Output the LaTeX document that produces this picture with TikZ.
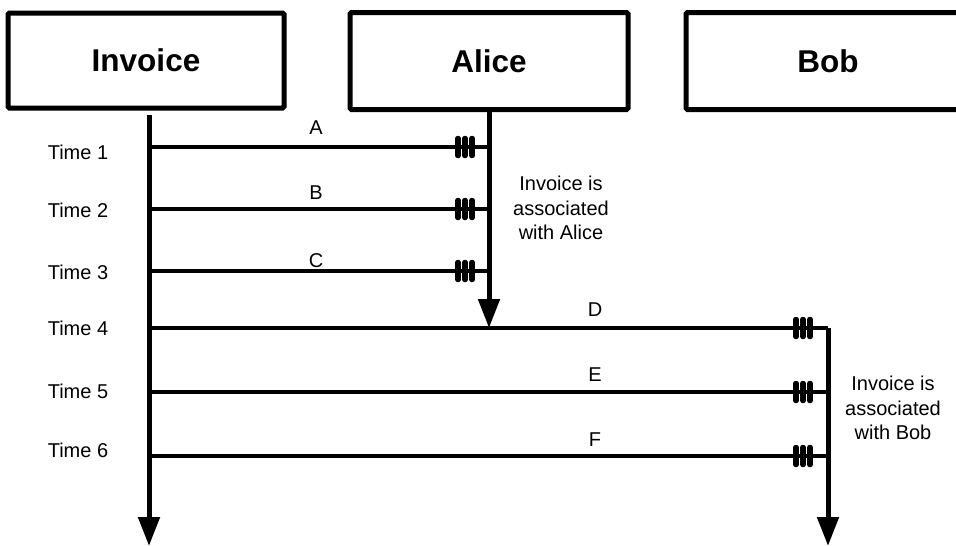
\documentclass[tikz,border=0pt]{standalone}
\usepackage{fontspec}
\setmainfont{Liberation Sans}
\usetikzlibrary{arrows.meta}
\begin{document}
\begin{tikzpicture}[x=1pt,y=-1pt,
  entity/.style={draw,line width=5pt,rounded corners=1.5pt,inner sep=0pt,
    font=\fontsize{31.5}{36}\selectfont\bfseries},
  lifeline/.style={line width=5pt,-{Triangle[width=21pt,length=29pt]}},
  link/.style={line width=4.5pt},
  tick/.style={line width=5.5pt,line cap=round},
  timelbl/.style={font=\fontsize{20}{24}\selectfont},
  msglbl/.style={font=\fontsize{20}{24}\selectfont},
  note/.style={font=\fontsize{20}{24.5}\selectfont,align=center}]
\useasboundingbox (0,0) rectangle (956,546);
\clip (0,0) rectangle (956,546);

% participants
\node[entity,minimum width=276pt,minimum height=95pt] (inv) at (146,60.5) {Invoice};
\node[entity,minimum width=278pt,minimum height=97pt] (ali) at (489,61) {Alice};
\node[entity,minimum width=284pt,minimum height=97pt] (bob) at (828,61) {Bob};

% points on the lifelines
\coordinate (itop) at (149,115);
\coordinate (iend) at (149,546);
\coordinate (a4) at (489,328);
\coordinate (b4) at (828,328);
\coordinate (bend) at (828,546);
\foreach \n/\y in {1/147,2/209,3/271,4/328,5/392,6/456}
  \coordinate (i\n) at (149,\y);
\foreach \n/\y in {1/147,2/209,3/271}
  \coordinate (a\n) at (489,\y);
\foreach \n/\y in {5/392,6/456}
  \coordinate (b\n) at (828,\y);

% lifelines
\draw[lifeline] (itop) -- (iend);
\draw[lifeline] (ali.south) -- (a4);
\draw[line width=5pt] (b4) -- (828,500);
\draw[lifeline] (b4) -- (bend);

% links with crow's-foot style ticks
\foreach \n in {1,2,3}{
  \draw[link] (i\n) -- (a\n);
  \foreach \d in {-31,-24,-17}
    \draw[tick] ([xshift=\d pt,yshift=-8.5pt]a\n) -- ([xshift=\d pt,yshift=8.5pt]a\n);
}
\foreach \n in {4,5,6}{
  \draw[link] (i\n) -- (b\n);
  \foreach \d in {-32,-25,-18}
    \draw[tick] ([xshift=\d pt,yshift=-8.5pt]b\n) -- ([xshift=\d pt,yshift=8.5pt]b\n);
}

% time labels
\foreach \n/\y in {1/152,2/210,3/272,4/328,5/391,6/450}
  \node[timelbl] (t\n) at (78,\y) {Time \n};

% link labels
\node[msglbl] (la) at (316,128) {A};
\node[msglbl] (lb) at (316,193) {B};
\node[msglbl] (lc) at (316,261) {C};
\node[msglbl] (ld) at (595,310) {D};
\node[msglbl] (le) at (595,375) {E};
\node[msglbl] (lf) at (595,440) {F};

% notes
\node[note] (na) at (561,208) {Invoice is\\associated\\with Alice};
\node[note] (nb) at (893,408) {Invoice is\\associated\\with Bob};
\end{tikzpicture}
\end{document}
